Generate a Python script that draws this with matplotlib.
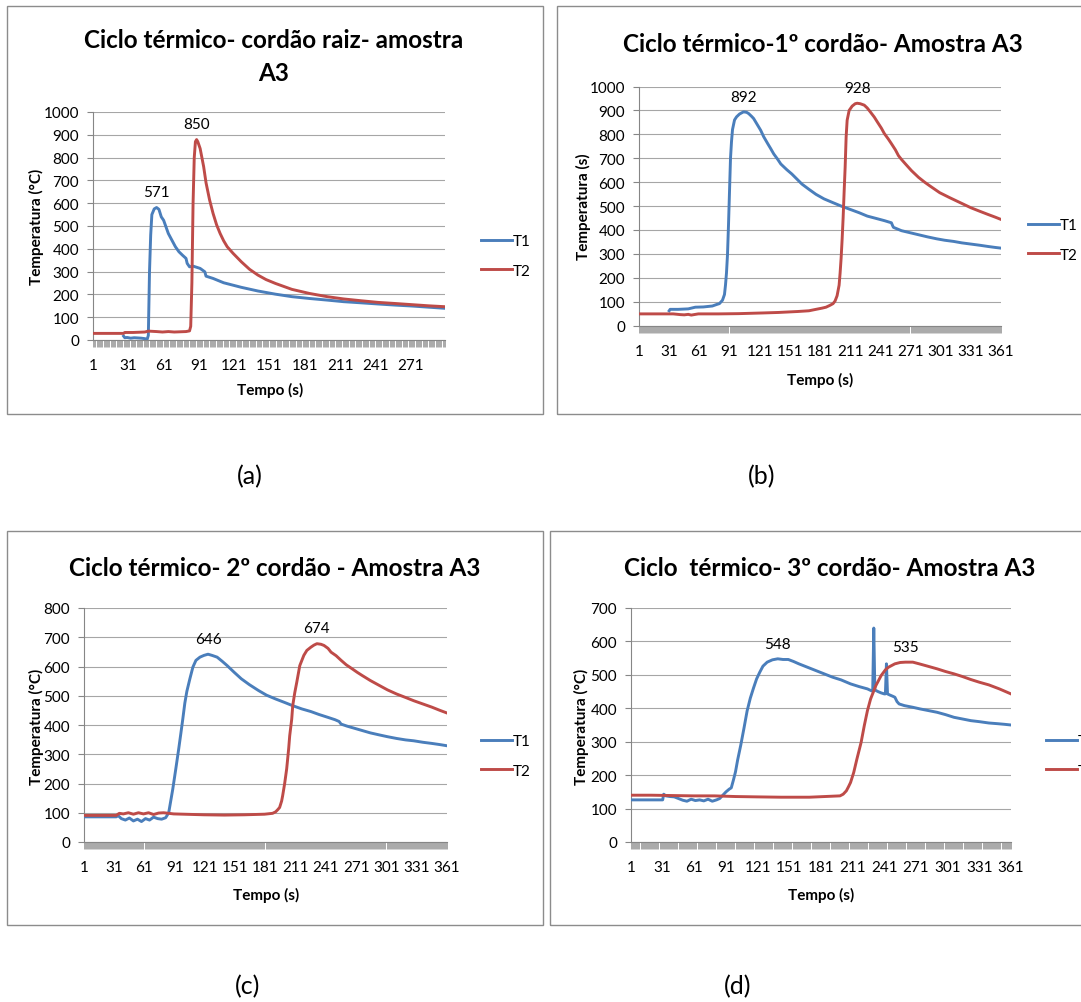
import numpy as np
import matplotlib
matplotlib.use("Agg")
import matplotlib.pyplot as plt
from matplotlib.patches import Rectangle

W, H = 1081, 1003
FONT = ["Liberation Sans Narrow", "Lato", "DejaVu Sans"]
plt.rcParams["font.family"] = FONT

BLUE = "#4A7EBB"
RED = "#BE4B48"
GRID = "#A6A6A6"
AXC = "#868686"

# ---------------- data ----------------
# (a) cordão raiz
a_t1_t = [27, 28, 30, 33, 36, 39, 42, 45, 47, 48, 49, 50, 51, 53, 55, 57, 59, 61, 63, 65,
          68, 71, 74, 77, 80, 81, 83, 86, 92, 96, 97, 103, 112, 127, 141, 156, 170, 185, 200, 214,
          229, 243, 258, 272, 286, 300]
a_t1_v = [17, 10, 11, 8, 10, 9, 8, 6, 3, 20, 300, 460, 550, 575, 581, 573, 540, 525, 496, 467,
          438, 409, 387, 372, 358, 336, 321, 324, 314, 299, 280, 270, 251, 231, 215, 201, 190, 182, 175, 168,
          163, 158, 153, 149, 144, 139]
a_t2_t = [1, 10, 20, 27, 28, 35, 45, 48, 55, 60, 65, 70, 75, 80, 83, 84, 85, 86, 87, 88,
          89, 90, 92, 95, 97, 100, 103, 106, 109, 112, 115, 120, 127, 134, 141, 148, 156, 163, 170, 185,
          200, 214, 229, 243, 258, 272, 286, 300]
a_t2_v = [29, 29, 29, 29, 33, 33, 35, 39, 37, 35, 37, 35, 36, 37, 40, 60, 250, 600, 800, 870,
          879, 870, 840, 760, 690, 615, 555, 505, 467, 435, 409, 380, 343, 310, 285, 265, 248, 235, 222, 204,
          190, 180, 172, 165, 160, 155, 150, 146]

# (b) 1º cordão
b_t1_t = [31, 32, 40, 50, 57, 65, 74, 78, 81, 84, 86, 87, 88, 89, 90, 91, 92, 93, 94, 96,
          98, 101, 105, 108, 110, 113, 115, 118, 122, 125, 129, 132, 135, 139, 142, 148, 153, 158, 163, 170,
          177, 185, 194, 202, 211, 220, 228, 237, 245, 252, 253, 254, 262, 271, 279, 288, 297, 305, 314, 322,
          331, 340, 348, 355, 361]
b_t1_v = [62, 68, 68, 70, 77, 78, 82, 88, 92, 106, 130, 169, 220, 296, 420, 560, 700, 770, 820, 860,
          873, 885, 894, 892, 887, 875, 866, 845, 817, 790, 761, 740, 718, 695, 676, 652, 634, 613, 592, 570,
          549, 530, 514, 500, 486, 472, 458, 448, 439, 430, 420, 411, 397, 388, 380, 371, 363, 357, 352, 346,
          341, 336, 331, 327, 324]
b_t2_t = [1, 20, 35, 42, 46, 50, 53, 60, 80, 100, 125, 140, 159, 170, 177, 183, 187, 191, 194, 196,
          198, 200, 201, 202, 203, 204, 205, 206, 207, 208, 210, 213, 216, 218, 221, 225, 228, 231, 235, 238,
          242, 245, 249, 252, 256, 259, 262, 266, 272, 279, 285, 290, 300, 310, 320, 331, 340, 348, 355, 361]
b_t2_v = [49, 49, 49, 46, 45, 47, 44, 49, 49, 50, 53, 55, 59, 62, 68, 73, 77, 85, 92, 103,
          125, 169, 220, 282, 360, 451, 560, 662, 790, 859, 900, 918, 928, 930, 928, 922, 910, 894, 872, 852,
          826, 803, 780, 761, 735, 711, 695, 676, 648, 620, 600, 585, 556, 535, 515, 493, 478, 465, 454, 444]

# (c) 2º cordão
c_t1_t = [1, 20, 33, 35, 38, 42, 46, 50, 54, 58, 62, 66, 70, 74, 78, 82, 85, 87, 89, 92,
          95, 97, 99, 101, 103, 106, 109, 112, 116, 120, 124, 128, 133, 138, 143, 150, 157, 165, 174, 182,
          191, 200, 208, 217, 226, 234, 243, 250, 254, 256, 262, 270, 277, 285, 294, 302, 311, 320, 328, 337,
          346, 354, 361]
c_t1_v = [86, 86, 86, 90, 80, 75, 82, 72, 78, 70, 80, 75, 85, 80, 78, 83, 100, 140, 180, 249,
          320, 370, 421, 475, 515, 558, 598, 621, 632, 638, 642, 638, 632, 618, 603, 580, 558, 538, 518, 502,
          489, 477, 466, 455, 446, 436, 426, 418, 412, 403, 396, 388, 381, 373, 366, 360, 354, 349, 346, 341,
          337, 333, 329]
c_t2_t = [1, 20, 33, 36, 40, 45, 50, 55, 60, 65, 70, 75, 80, 85, 90, 100, 120, 140, 160, 180,
          188, 191, 193, 195, 197, 198, 200, 202, 204, 205, 207, 208, 210, 212, 215, 219, 222, 226, 229, 232,
          236, 239, 243, 246, 251, 256, 261, 267, 272, 277, 285, 294, 302, 311, 320, 328, 337, 346, 354, 361]
c_t2_v = [91, 91, 91, 98, 96, 100, 95, 100, 96, 100, 94, 99, 100, 98, 96, 95, 93, 92, 93, 95,
          98, 103, 110, 118, 140, 158, 200, 250, 320, 363, 420, 466, 510, 546, 603, 638, 655, 666, 673, 678,
          676, 672, 662, 649, 637, 621, 606, 592, 580, 569, 552, 535, 520, 506, 494, 483, 472, 461, 450, 441]

# (d) 3º cordão
d_t1_t = [1, 20, 31, 32, 34, 38, 42, 46, 50, 54, 58, 62, 66, 70, 74, 78, 82, 85, 88, 91,
          94, 96, 98, 100, 102, 105, 108, 111, 114, 117, 120, 123, 126, 130, 135, 140, 145, 150, 155, 160,
          168, 176, 184, 192, 200, 209, 217, 225, 229, 230, 231, 232, 235, 238, 241, 242, 243, 244, 246, 249,
          251, 253, 255, 260, 268, 275, 283, 291, 299, 307, 315, 323, 331, 340, 348, 355, 361]
d_t1_v = [126, 126, 126, 143, 138, 136, 135, 130, 125, 122, 128, 124, 126, 123, 128, 122, 126, 130, 140, 150,
          158, 162, 185, 210, 245, 290, 340, 392, 430, 460, 488, 508, 526, 538, 545, 548, 546, 546, 540, 533,
          523, 513, 503, 493, 485, 473, 465, 458, 452, 455, 640, 455, 450, 446, 443, 443, 533, 443, 440, 436,
          433, 420, 413, 408, 403, 398, 393, 388, 381, 373, 368, 363, 360, 356, 354, 352, 350]
d_t2_t = [1, 20, 40, 60, 80, 100, 120, 143, 170, 199, 202, 205, 207, 209, 212, 215, 219, 222, 225, 228,
          233, 238, 242, 245, 251, 256, 261, 268, 274, 282, 291, 299, 307, 315, 323, 331, 340, 350, 361]
d_t2_v = [140, 140, 139, 138, 138, 136, 135, 134, 134, 138, 143, 153, 165, 178, 208, 248, 298, 348, 393, 428,
          468, 498, 515, 523, 533, 537, 538, 538, 533, 526, 518, 510, 503, 495, 486, 478, 470, 458, 443]

titles = ["Ciclo térmico- cordão raiz- amostra\nA3",
          "Ciclo térmico-1º cordão- Amostra A3",
          "Ciclo térmico- 2º cordão - Amostra A3",
          "Ciclo  térmico- 3º cordão- Amostra A3"]
ylabels = ["Temperatura (°C)", "Temperatura (s)", "Temperatura (°C)", "Temperatura (°C)"]
xlabel = "Tempo (s)"
series_names = ["T1", "T2"]
n_points = [300, 361, 361, 361]
ymax = [1000, 1000, 800, 700]
xtick_labels = [[1, 31, 61, 91, 121, 151, 181, 211, 241, 271],
                [1, 31, 61, 91, 121, 151, 181, 211, 241, 271, 301, 331, 361],
                [1, 31, 61, 91, 121, 151, 181, 211, 241, 271, 301, 331, 361],
                [1, 31, 61, 91, 121, 151, 181, 211, 241, 271, 301, 331, 361]]
# data labels: (text, time of labelled point) for T1 and T2
peak_labels = [[("571", 55), ("850", 89)],
               [("892", 105), ("928", 218)],
               [("646", 124), ("674", 232)],
               [("548", 140), ("535", 261)]]
panel_tags = ["(a)", "(b)", "(c)", "(d)"]

panels = [((a_t1_t, a_t1_v), (a_t2_t, a_t2_v)),
          ((b_t1_t, b_t1_v), (b_t2_t, b_t2_v)),
          ((c_t1_t, c_t1_v), (c_t2_t, c_t2_v)),
          ((d_t1_t, d_t1_v), (d_t2_t, d_t2_v))]

# ---------------- layout (pixels) ----------------
def fx(px):
    return px / W

def fy(py):
    return 1 - py / H

# plot areas: left, right, top, bottom in pixels
areas = [(93, 445, 113, 341), (639, 1001, 87.5, 326.6), (84, 447, 609, 843), (631, 1011, 609, 843)]
# chart frames: left, right, top, bottom in pixels
boxes = [(7, 543, 7, 415), (557, 1090, 7, 415), (7, 543, 532, 926), (550, 1090, 532, 926)]
title_pos = [(274, 57), (823, 44), (275, 568), (830, 568)]
ylab_pos = [(36, 227), (583, 207), (36, 727), (581, 727)]
xlab_pos = [(270, 390), (820, 380), (266, 895), (821, 895)]
legend_pos = [(481, 257), (1028, 241), (481, 757), (1046, 757)]
tag_pos = [(250, 477), (762, 477), (248, 987), (738, 987)]

fig = plt.figure(figsize=(W / 100, H / 100), dpi=100)

for i in range(4):
    bl, br, bt, bb = boxes[i]
    fig.patches.append(Rectangle((fx(bl), fy(bb)), fx(br) - fx(bl), (bb - bt) / H,
                                 transform=fig.transFigure, fill=False, ec="#8C8C8C", lw=1.0))

    l, r, t, b = areas[i]
    ax = fig.add_axes([fx(l), fy(b), fx(r) - fx(l), (b - t) / H])
    N = n_points[i]
    (t1t, t1v), (t2t, t2v) = panels[i]
    h1, = ax.plot(t1t, t1v, color=BLUE, lw=2.1, solid_joinstyle="round", label=series_names[0], zorder=3)
    h2, = ax.plot(t2t, t2v, color=RED, lw=2.1, solid_joinstyle="round", label=series_names[1], zorder=3)
    ax.set_xlim(1, N)
    ax.set_ylim(0, ymax[i])
    ax.set_yticks(np.arange(0, ymax[i] + 1, 100))
    ax.set_xticks(xtick_labels[i])
    ax.set_xticklabels([str(v) for v in xtick_labels[i]])
    ax.set_xticks(np.arange(1, N + 1), minor=True)
    ax.grid(axis="y", color=GRID, lw=0.8, zorder=0)
    ax.set_axisbelow(True)
    for s in ["top", "right"]:
        ax.spines[s].set_visible(False)
    for s in ["left", "bottom"]:
        ax.spines[s].set_color(AXC)
        ax.spines[s].set_linewidth(0.8)
    ax.tick_params(axis="y", which="major", length=4, width=0.8, color=AXC, pad=6, labelsize=11)
    ax.tick_params(axis="x", which="both", length=5, width=0.45, color="#7A7A7A", direction="out")
    ax.tick_params(axis="x", which="major", pad=8, labelsize=11)
    ax.patch.set_alpha(0)

    # data labels
    for (txt, tt), (st, sv) in zip(peak_labels[i], panels[i]):
        k = st.index(tt)
        ax.annotate(txt, xy=(st[k], sv[k]), xytext=(0, 11), textcoords="offset points",
                    ha="center", va="center", fontsize=11)

    # legend
    lx, ly = legend_pos[i]
    ax.legend(handles=[h1, h2], loc="center left", bbox_to_anchor=(fx(lx), fy(ly)),
              bbox_transform=fig.transFigure, frameon=False, fontsize=11,
              handlelength=2.0, handletextpad=0.1, labelspacing=1.0, borderpad=0, borderaxespad=0)

    tx, ty = title_pos[i]
    fig.text(fx(tx), fy(ty), titles[i], ha="center", va="center", fontsize=17.5,
             fontweight="bold", linespacing=1.55)
    yx, yy = ylab_pos[i]
    fig.text(fx(yx), fy(yy), ylabels[i], ha="center", va="center", rotation=90,
             fontsize=11, fontweight="bold")
    xx, xy_ = xlab_pos[i]
    fig.text(fx(xx), fy(xy_), xlabel, ha="center", va="center", fontsize=11, fontweight="bold")
    gx, gy = tag_pos[i]
    fig.text(fx(gx), fy(gy), panel_tags[i], ha="center", va="center", fontsize=18)

fig.savefig("out.png", dpi=100, facecolor="white")
